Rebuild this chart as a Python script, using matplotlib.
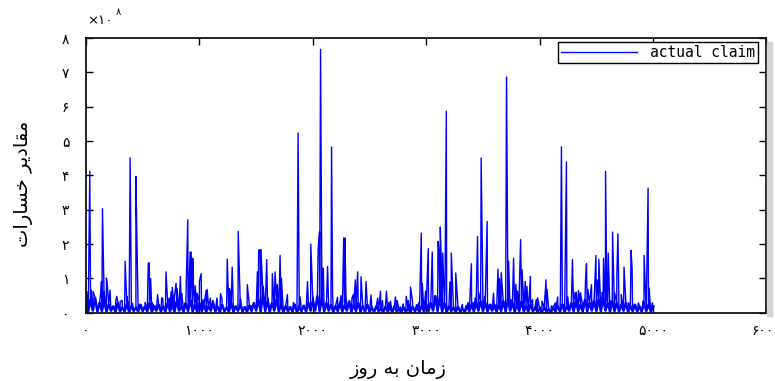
import numpy as np
import matplotlib
matplotlib.use("Agg")
import matplotlib.pyplot as plt
from matplotlib.patches import Rectangle

plt.rcParams['font.family'] = ['DejaVu Sans']

# small daily claims, one reading every 20 days (x1e8)
base_start, base_step = 0, 20
base_val = [
    0.55, 0.03, 0.4, 0.05, 0.45, 0.02, 0.3, 0.04, 0.35, 0.03, 0.25, 0.05, 0.2, 0.02, 0.3, 0.04, 0.15, 0.03, 0.25, 0.02, 0.2, 0.05, 0.15, 0.03, 0.25,
    0.04, 0.2, 0.03, 0.3, 0.02, 0.18, 0.05, 0.25, 0.03, 0.2, 0.02, 0.3, 0.04, 0.22, 0.03, 0.35, 0.05, 0.2, 0.02, 0.28, 0.04, 0.4, 0.03, 0.25, 0.02,
    0.3, 0.04, 0.22, 0.02, 0.2, 0.05, 0.3, 0.03, 0.18, 0.02, 0.25, 0.04, 0.15, 0.03, 0.3, 0.02, 0.2, 0.05, 0.25, 0.03, 0.18, 0.02, 0.22, 0.04, 0.3,
    0.05, 0.4, 0.03, 0.5, 0.04, 0.35, 0.02, 0.3, 0.05, 0.4, 0.03, 0.25, 0.02, 0.2, 0.04, 0.18, 0.03, 0.25, 0.02, 0.15, 0.04, 0.22, 0.03, 0.3, 0.05,
    0.35, 0.05, 0.5, 0.04, 0.45, 0.03, 0.3, 0.05, 0.25, 0.02, 0.2, 0.04, 0.3, 0.03, 0.22, 0.05, 0.35, 0.02, 0.25, 0.04, 0.3, 0.03, 0.2, 0.02, 0.25,
    0.03, 0.15, 0.02, 0.2, 0.04, 0.12, 0.02, 0.18, 0.03, 0.15, 0.02, 0.2, 0.04, 0.1, 0.02, 0.15, 0.03, 0.12, 0.02, 0.18, 0.04, 0.15, 0.02, 0.2, 0.03,
    0.25, 0.04, 0.3, 0.05, 0.5, 0.04, 0.45, 0.03, 0.3, 0.02, 0.2, 0.04, 0.15, 0.02, 0.18, 0.03, 0.12, 0.02, 0.2, 0.04, 0.25, 0.03, 0.3, 0.05, 0.35,
    0.04, 0.3, 0.03, 0.25, 0.05, 0.2, 0.02, 0.25, 0.04, 0.35, 0.03, 0.4, 0.05, 0.3, 0.02, 0.25, 0.04, 0.35, 0.03, 0.2, 0.02, 0.25, 0.04, 0.15, 0.03,
    0.12, 0.02, 0.15, 0.03, 0.1, 0.02, 0.15, 0.04, 0.2, 0.03, 0.25, 0.02, 0.2, 0.05, 0.3, 0.03, 0.35, 0.04, 0.25, 0.02, 0.4, 0.03, 0.3, 0.05, 0.35,
    0.04, 0.4, 0.03, 0.45, 0.05, 0.3, 0.02, 0.35, 0.04, 0.3, 0.03, 0.25, 0.05, 0.3, 0.02, 0.2, 0.04, 0.25, 0.03, 0.2, 0.02, 0.3, 0.04, 0.25, 0.03,
    0.15,
]

# larger claims (day, value x1e8)
spike_day = [
    6, 33, 41, 62, 86, 130, 136, 145, 160, 180, 189, 212, 263, 272, 301, 319, 345, 360, 389, 410,
    440, 448, 465, 522, 549, 558, 570, 582, 608, 631, 667, 676, 705, 735, 750, 761, 780, 794, 803, 832,
    845, 870, 897, 918, 927, 941, 947, 962, 980, 1000, 1015, 1032, 1059, 1068, 1097, 1118, 1154, 1186, 1198, 1245,
    1265, 1274, 1289, 1342, 1362, 1422, 1457, 1511, 1522, 1534, 1543, 1555, 1563, 1593, 1605, 1643, 1667, 1687, 1711, 1723,
    1776, 1829, 1870, 1888, 1953, 1982, 2000, 2047, 2059, 2068, 2080, 2092, 2130, 2165, 2174, 2218, 2248, 2272, 2283, 2292,
    2345, 2357, 2375, 2395, 2425, 2469, 2513, 2572, 2596, 2614, 2649, 2670, 2684, 2728, 2743, 2772, 2796, 2823, 2841, 2861,
    2879, 2914, 2935, 2956, 2965, 2994, 3018, 3032, 3053, 3074, 3086, 3104, 3112, 3124, 3133, 3145, 3165, 3177, 3209, 3221,
    3239, 3260, 3283, 3319, 3348, 3369, 3398, 3413, 3431, 3452, 3463, 3484, 3499, 3516, 3537, 3555, 3570, 3593, 3605, 3632,
    3646, 3661, 3679, 3708, 3726, 3746, 3770, 3790, 3805, 3820, 3832, 3844, 3855, 3873, 3888, 3918, 3938, 3970, 3982, 4020,
    4056, 4065, 4103, 4139, 4159, 4183, 4192, 4212, 4236, 4248, 4289, 4301, 4322, 4342, 4360, 4378, 4404, 4413, 4425, 4457,
    4475, 4496, 4507, 4522, 4552, 4563, 4581, 4593, 4605, 4626, 4643, 4661, 4681, 4690, 4720, 4744, 4756, 4782, 4806, 4815,
    4841, 4871, 4912, 4921, 4956, 4965, 4994, 5009,
]
spike_val = [
    0.62, 4.12, 0.67, 0.62, 0.30, 0.60, 0.91, 3.03, 0.62, 1.01, 0.77, 0.66, 0.38, 0.48, 0.33, 0.36, 1.50, 0.48, 4.51, 0.28,
    3.97, 2.27, 0.20, 0.30, 1.45, 1.45, 1.00, 0.30, 0.20, 0.53, 0.43, 0.43, 1.19, 0.43, 0.62, 0.74, 0.48, 0.86, 0.70, 1.06,
    0.56, 0.28, 2.71, 1.77, 1.77, 1.59, 0.77, 0.79, 0.57, 0.91, 1.14, 0.38, 0.65, 0.68, 0.43, 0.36, 0.43, 0.56, 0.43, 1.56,
    0.70, 0.53, 1.33, 2.37, 0.40, 0.82, 0.20, 1.20, 1.82, 1.84, 1.84, 0.87, 0.77, 1.55, 0.43, 1.14, 1.19, 0.82, 1.67, 1.00,
    0.53, 0.30, 5.24, 0.46, 0.91, 2.00, 0.46, 1.87, 2.35, 7.67, 1.12, 1.30, 1.35, 4.83, 0.55, 0.45, 0.50, 2.18, 2.18, 0.50,
    0.43, 0.53, 0.96, 1.19, 1.05, 0.91, 0.52, 0.43, 0.63, 0.36, 0.63, 0.30, 0.34, 0.46, 0.36, 0.17, 0.26, 0.48, 0.36, 0.75,
    0.34, 0.24, 0.30, 2.32, 0.85, 0.63, 1.87, 0.24, 1.77, 0.30, 0.30, 2.08, 1.78, 2.50, 1.40, 1.74, 0.63, 5.87, 0.90, 1.74,
    0.20, 1.16, 0.15, 0.24, 0.20, 0.30, 1.43, 0.30, 0.43, 2.22, 0.58, 4.51, 0.57, 0.48, 2.66, 0.15, 0.24, 0.57, 0.24, 1.27,
    1.00, 1.17, 0.34, 6.87, 1.50, 0.38, 1.59, 0.83, 0.63, 0.63, 2.13, 1.26, 0.63, 0.91, 0.77, 1.06, 0.39, 0.39, 0.44, 0.34,
    0.96, 0.68, 0.20, 0.29, 0.46, 0.60, 4.83, 0.24, 4.39, 0.46, 1.55, 0.60, 0.60, 0.65, 0.58, 0.24, 0.92, 1.43, 0.68, 0.82,
    0.34, 1.67, 0.96, 1.56, 0.60, 1.59, 4.12, 0.34, 1.74, 0.34, 2.35, 0.58, 1.12, 2.30, 0.53, 1.33, 0.58, 0.29, 1.82, 1.29,
    0.20, 0.29, 0.34, 1.67, 3.63, 0.72, 0.29, 0.20,
]

fa_digits = '۰۱۲۳۴۵۶۷۸۹'
def fa(n):
    return ''.join(fa_digits[int(c)] for c in str(n))

x_ticks = [0, 1000, 2000, 3000, 4000, 5000, 6000]
y_ticks = [0, 1, 2, 3, 4, 5, 6, 7, 8]

# Persian labels, contextual forms in visual (left-to-right) order
# logical: "زمان به روز"
x_label = '\uFEAF\uFEED\uFEAD \uFEEA\uFE91 \uFEE5\uFE8E\uFEE3\uFEAF'
# logical: "مقادیر خسارات"
y_label = '\uFE95\uFE8D\uFEAD\uFE8E\uFEB4\uFEA7 \uFEAE\uFEF3\uFEA9\uFE8E\uFED8\uFEE3'

base_day = base_start + base_step * np.arange(len(base_val))
day = np.concatenate([base_day, spike_day])
val = np.concatenate([base_val, spike_val])
order = np.argsort(day, kind='stable')

fig = plt.figure(figsize=(7.75, 3.81), dpi=100)
ax = fig.add_axes([0.111, 0.179, 0.878, 0.721])
# dense band of small claims, then the full series on top
ax.plot(base_day, base_val, color='#0000ff', lw=1.7, solid_joinstyle='miter')
ax.plot(day[order], val[order], color='#0000ff', lw=1.0, label='actual claim')

# light shadow right of the box
fig.patches.append(Rectangle((0.9895, 0.17), 0.006, 0.72, transform=fig.transFigure,
                             color='#d4d4d4', zorder=0))

ax.set_xlim(0, 6000)
ax.set_ylim(0, 8)
ax.set_xticks(x_ticks)
ax.set_xticklabels([fa(t) for t in x_ticks])
ax.set_yticks(y_ticks)
ax.set_yticklabels([fa(t) for t in y_ticks])
ax.tick_params(direction='in', length=5, width=1, top=True, right=True, labelsize=10)
ax.tick_params(axis='x', pad=8)
ax.tick_params(axis='y', pad=12)
for s in ax.spines.values():
    s.set_linewidth(1.3)
    s.set_color('#111111')

ax.set_xlabel(x_label, fontsize=14)
ax.xaxis.set_label_coords(0.459, -0.17)
ax.set_ylabel(y_label, fontsize=14)
ax.yaxis.set_label_coords(-0.078, 0.47)

ax.text(0.002, 1.04, '×' + fa(10), transform=ax.transAxes, ha='left', va='bottom', fontsize=9.5)
ax.text(0.043, 1.075, fa(8), transform=ax.transAxes, ha='left', va='bottom', fontsize=7)

leg = ax.legend(loc='upper right', bbox_to_anchor=(0.987, 0.985), fancybox=False, framealpha=1,
                edgecolor='black', borderpad=0.2, handlelength=5.2, handletextpad=0.9,
                borderaxespad=0, prop={'family': 'DejaVu Sans Mono', 'size': 10.5})
leg.get_frame().set_linewidth(1)

fig.savefig('out.png', dpi=100)
